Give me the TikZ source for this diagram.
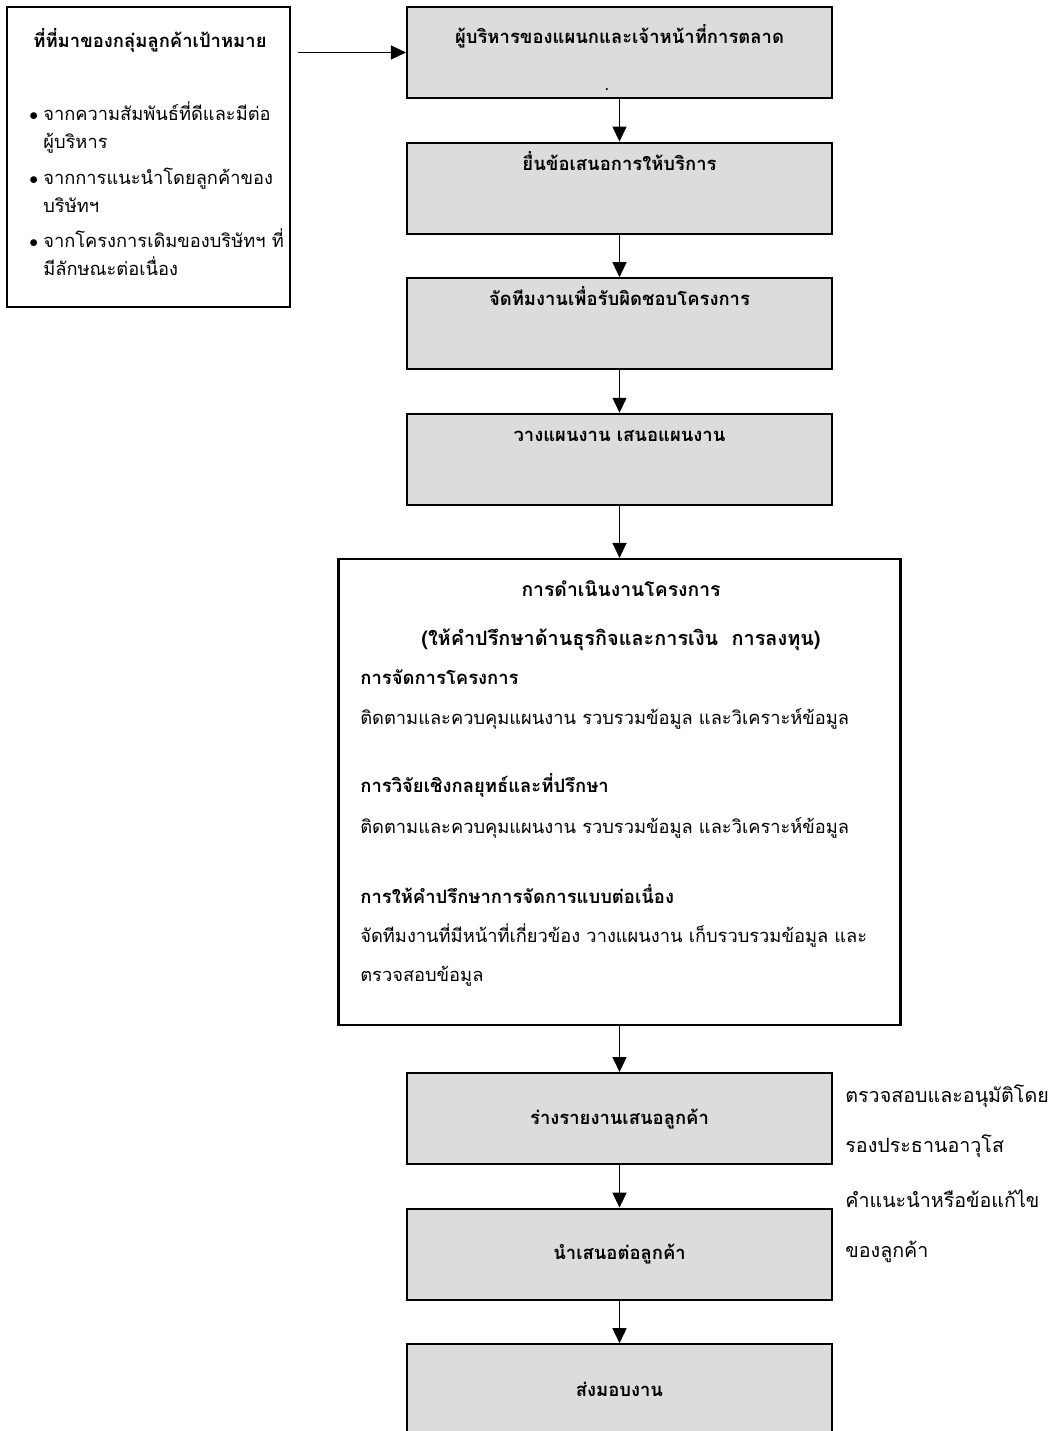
\documentclass[tikz,border=0pt]{standalone}
\usepackage{fontspec}
\usepackage{xcolor}
\usepackage{tikz}
\usetikzlibrary{positioning,arrows.meta,calc}
\newfontfamily\thai[Script=Thai]{Loma}
\definecolor{boxgray}{RGB}{220,220,220}

\begin{document}
\begin{tikzpicture}[node distance=0.85cm, >={Triangle[length=3mm,width=2.8mm]}]
    \tikzstyle{source} = [rectangle, draw, line width=1.2pt, minimum width=5.66cm, minimum height=6cm, inner sep=0pt]
    \tikzstyle{stage} = [rectangle, draw, line width=1.2pt, fill=boxgray, minimum width=8.5cm, minimum height=1.82cm, inner sep=0pt, font=\thai\bfseries\fontsize{10.5}{13}\selectfont]
    \tikzstyle{stagetop} = [stage, text height=0.55cm, text depth=1.27cm]
    \tikzstyle{work} = [rectangle, draw, line width=1.2pt, minimum width=11.24cm, minimum height=9.32cm, inner sep=0pt]
    \tikzstyle{heading} = [inner sep=0pt, font=\thai\bfseries\fontsize{10.5}{13}\selectfont]
    \tikzstyle{body} = [inner sep=0pt, align=left, font=\thai\fontsize{10.4}{22}\selectfont]
    \tikzstyle{item} = [inner sep=0pt, align=left, font=\thai\fontsize{10.4}{15.4}\selectfont]
    \tikzstyle{note} = [inner sep=0pt, align=left, font=\thai\fontsize{11.2}{28}\selectfont]

    \useasboundingbox (0,0) rectangle (21.26,-28.62);

    % Source box
    \node [source] (src) at (2.97,-3.14) {};
    \node [heading, anchor=base] (srctitle) at (3.0,-0.94) {ที่ที่มาของกลุ่มลูกค้าเป้าหมาย};
    \node [item, anchor=base west] (itemA) at (0.86,-2.96) {\llap{$\bullet$\hspace{3pt}}จากความสัมพันธ์ที่ดีและมีต่อ\\ผู้บริหาร};
    \node [item, anchor=base west] (itemB) at (0.86,-4.24) {\llap{$\bullet$\hspace{3pt}}จากการแนะนำโดยลูกค้าของ\\บริษัทฯ};
    \node [item, anchor=base west] (itemC) at (0.86,-5.50) {\llap{$\bullet$\hspace{3pt}}จากโครงการเดิมของบริษัทฯ ที่\\มีลักษณะต่อเนื่อง};

    % Upper stages
    \node [stagetop, text height=0.72cm, text depth=1.1cm] (managers) at (12.39,-1.05) {ผู้บริหารของแผนกและเจ้าหน้าที่การตลาด};
    \node [body, anchor=base] (dot) at (12.14,-1.80) {.};
    \node [stagetop, below=of managers] (offer) {ยื่นข้อเสนอการให้บริการ};
    \node [stagetop, below=of offer] (team) {จัดทีมงานเพื่อรับผิดชอบโครงการ};
    \node [stagetop, below=of team] (plan) {วางแผนงาน เสนอแผนงาน};

    % Project work
    \node [work, below=1.04cm of plan] (project) {};
    \node [heading, anchor=base, font=\thai\bfseries\fontsize{11}{13}\selectfont] (projtitle) at (12.42,-11.92) {การดำเนินงานโครงการ};
    \node [heading, anchor=base, font=\thai\bfseries\fontsize{11.3}{13}\selectfont] (projsub) at (12.42,-12.90) {(ให้คำปรึกษาด้านธุรกิจและการเงิน\ \ การลงทุน)};
    \node [heading, anchor=base west] (mgmt) at (7.2,-13.68) {การจัดการโครงการ};
    \node [body, anchor=base west] (mgmttext) at (7.2,-14.48) {ติดตามและควบคุมแผนงาน รวบรวมข้อมูล และวิเคราะห์ข้อมูล};
    \node [heading, anchor=base west] (research) at (7.2,-15.84) {การวิจัยเชิงกลยุทธ์และที่ปรึกษา};
    \node [body, anchor=base west] (researchtext) at (7.2,-16.66) {ติดตามและควบคุมแผนงาน รวบรวมข้อมูล และวิเคราะห์ข้อมูล};
    \node [heading, anchor=base west] (advice) at (7.2,-18.06) {การให้คำปรึกษาการจัดการแบบต่อเนื่อง};
    \node [body, anchor=base west] (advicetext) at (7.2,-19.62) {จัดทีมงานที่มีหน้าที่เกี่ยวข้อง วางแผนงาน เก็บรวบรวมข้อมูล และ\\ตรวจสอบข้อมูล};

    % Lower stages
    \node [stage, below=0.92cm of project] (draft) {ร่างรายงานเสนอลูกค้า};
    \node [stage, below=of draft] (present) {นำเสนอต่อลูกค้า};
    \node [stage, below=of present] (deliver) {ส่งมอบงาน};

    % Notes
    \node [note, anchor=base west] (approve) at (16.9,-23.04) {ตรวจสอบและอนุมัติโดย\\รองประธานอาวุโส};
    \node [note, anchor=base west] (revise) at (16.9,-25.14) {คำแนะนำหรือข้อแก้ไข\\ของลูกค้า};

    % Arrows
    \coordinate (srcout) at ($(src.east |- managers.west)+(0.14,0)$);
    \draw [->, line width=0.8pt] (srcout) -- (managers.west);
    \draw [->, line width=0.8pt] (managers) -- (offer);
    \draw [->, line width=0.8pt] (offer) -- (team);
    \draw [->, line width=0.8pt] (team) -- (plan);
    \draw [->, line width=0.8pt] (plan) -- (project);
    \draw [->, line width=0.8pt] (project) -- (draft);
    \draw [->, line width=0.8pt] (draft) -- (present);
    \draw [->, line width=0.8pt] (present) -- (deliver);
\end{tikzpicture}
\end{document}
